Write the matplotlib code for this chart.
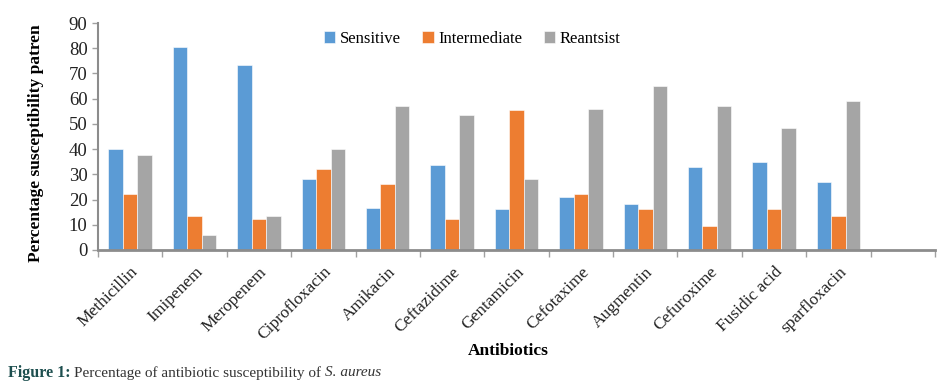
import matplotlib
matplotlib.use("Agg")
import matplotlib.pyplot as plt
import numpy as np

antibiotics = ["Methicillin", "Imipenem", "Meropenem", "Ciprofloxacin", "Amikacin",
               "Ceftazidime", "Gentamicin", "Cefotaxime", "Augmentin", "Cefuroxime",
               "Fusidic acid", "sparfloxacin"]
sensitive = [40, 80.3, 73.5, 28, 16.5, 33.8, 16.4, 21.2, 18.2, 32.8, 34.7, 27]
intermediate = [22.3, 13.5, 12.4, 32, 26, 12.4, 55.4, 22.2, 16.4, 9.6, 16.4, 13.3]
resistant = [37.8, 5.8, 13.5, 40, 57, 53.4, 28, 56.1, 65, 57, 48.3, 59.1]
series_names = ["Sensitive", "Intermediate", "Reantsist"]
colors = ["#5B9BD5", "#ED7D31", "#A5A5A5"]

plt.rcParams['font.family'] = ['Liberation Serif', 'DejaVu Serif']

fig = plt.figure(figsize=(9.45, 3.89), dpi=100)
ax = fig.add_axes([98/945, 1-250/389, 837/945, 227/389])

n_slots = len(antibiotics) + 1
x = np.arange(len(antibiotics))
w = 0.225
for i, (vals, name, c) in enumerate(zip([sensitive, intermediate, resistant], series_names, colors)):
    ax.bar(x + (i - 1) * w, vals, width=w, color=c, label=name,
           edgecolor="white", linewidth=0.4)

ax.set_xlim(-0.5, n_slots - 0.5)
ax.set_ylim(0, 90)
ax.set_yticks(np.arange(0, 91, 10))
ax.set_xticks(np.arange(-0.5, n_slots, 1.0))
ax.set_xticklabels([])
ax.set_xticks(x, minor=True)
ax.set_xticklabels(antibiotics, minor=True, rotation=45, ha="right",
                   rotation_mode="anchor", fontsize=12.5, color="#222222")
ax.tick_params(axis="x", which="minor", length=0, pad=10)
ax.tick_params(axis="x", which="major", length=5, width=1, color="#a0a0a0", direction="out")
ax.tick_params(axis="y", length=4, width=1, color="#a0a0a0", labelsize=13.5, labelcolor="#222222")

for s in ["top", "right"]:
    ax.spines[s].set_visible(False)
ax.spines["left"].set_color("#8c8c8c")
ax.spines["left"].set_linewidth(1.5)
ax.spines["bottom"].set_color("#8c8c8c")
ax.spines["bottom"].set_linewidth(2)

ax.set_ylabel("Percentage susceptibility patren", fontsize=12.5, fontweight="bold")
ax.yaxis.set_label_coords(-0.0645, 0.47)
ax.set_xlabel("Antibiotics", fontsize=12.5, fontweight="bold")
ax.xaxis.set_label_coords(0.49, -0.41)

leg = ax.legend(loc="center", bbox_to_anchor=(0.447, 0.93), ncol=3, frameon=False,
                fontsize=12, handlelength=0.7, handleheight=0.7, handletextpad=0.25,
                columnspacing=1.3)

# caption
renderer = fig.canvas.get_renderer()
t1 = fig.text(8/945, 1-373/389, "Figure 1:", fontsize=11.5, fontweight="bold",
              color="#1d4f4f", va="center")
bb = t1.get_window_extent(renderer)
x1 = bb.x1 / fig.bbox.width + 4/945
t2 = fig.text(x1, 1-373/389, "Percentage of antibiotic susceptibility of ", fontsize=11,
              color="#333333", va="center")
bb2 = t2.get_window_extent(renderer)
t3 = fig.text(bb2.x1 / fig.bbox.width, 1-373/389, "S. aureus", fontsize=11,
              style="italic", color="#333333", va="center")

fig.savefig("out.png", dpi=100)
